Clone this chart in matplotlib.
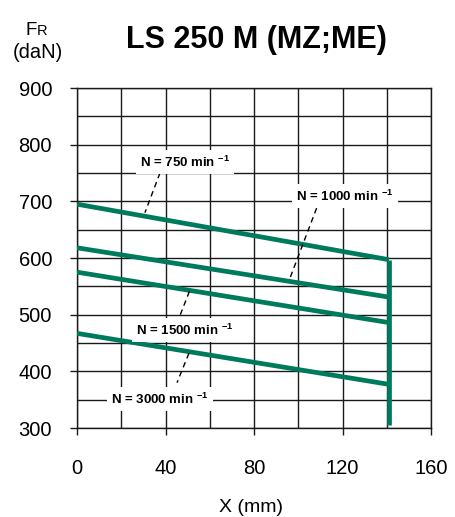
import matplotlib
matplotlib.use("Agg")
import matplotlib.pyplot as plt
from matplotlib.ticker import MultipleLocator

plt.rcParams['font.family'] = ['Liberation Sans Narrow', 'Liberation Sans', 'DejaVu Sans']
plt.rcParams['mathtext.default'] = 'regular'

# data
speeds = ['750', '1000', '1500', '3000']
fr_start = [695, 618, 575, 467]
fr_end = [597, 531, 486, 377]
x_start = 0
x_end = 141
fr_bottom = 305
x_ticks = [0, 40, 80, 120, 160]
y_ticks = [300, 400, 500, 600, 700, 800, 900]

green = '#007A5C'

fig = plt.figure(figsize=(4.55, 5.17), dpi=100)
ax = fig.add_axes([77/455, 1-428/517, (431-77)/455, (428-88)/517])
ax.set_xlim(0, 160)
ax.set_ylim(300, 900)
ax.set_xticks(x_ticks)
ax.set_yticks(y_ticks)
ax.xaxis.set_minor_locator(MultipleLocator(20))
ax.yaxis.set_minor_locator(MultipleLocator(50))
ax.grid(True, which='both', color='#1a1a1a', linewidth=1.0)
ax.tick_params(which='major', direction='out', length=5, width=1.0, color='#1a1a1a', labelsize=14.5)
ax.tick_params(which='minor', length=0)
ax.tick_params(axis='y', pad=13)
ax.tick_params(axis='x', pad=17)
for s in ax.spines.values():
    s.set_color('#1a1a1a')
    s.set_linewidth(1.0)
ax.set_axisbelow(True)

for a, b in zip(fr_start, fr_end):
    ax.plot([x_start, x_end], [a, b], color=green, linewidth=3.4, solid_capstyle='butt', zorder=3)
ax.plot([x_end, x_end], [fr_end[0], fr_bottom], color=green,
        linewidth=3.4, solid_capstyle='butt', zorder=3)

# leader lines (dashed)
leaders = [((37.5, 750), (30.7, 680)),
           ((108.3, 688), (96.3, 565)),
           ((50.8, 541), (46.7, 500)),
           ((50.6, 432), (45.2, 380))]
for (x0, y0), (x1, y1) in leaders:
    ax.plot([x0, x1], [y0, y1], color='black', linewidth=1.0, linestyle=(0, (4, 3)), zorder=4)

label_pos = [(48.8, 769), (121, 709), (48.8, 473), (37.5, 351)]
for sp, (lx, ly) in zip(speeds, label_pos):
    ax.text(lx, ly, 'N = ' + sp + ' min $^{-1}$', ha='center', va='center', fontsize=9.5,
            fontweight='bold', zorder=5,
            bbox=dict(facecolor='white', edgecolor='none', pad=3))

fig.text(256/455, 1-40/517, 'LS 250 M (MZ;ME)', ha='center', va='center', fontsize=22, fontweight='bold')
fig.text(37/455, 1-35/517, 'F', ha='right', va='baseline', fontsize=13.5)
fig.text(37/455, 1-35/517, 'R', ha='left', va='baseline', fontsize=10.5)
fig.text(38/455, 1-52/517, '(daN)', ha='center', va='center', fontsize=14.5)
fig.text(251/455, 1-508/517, 'X (mm)', ha='center', va='center', fontsize=14)

fig.savefig('out.png', dpi=100)
